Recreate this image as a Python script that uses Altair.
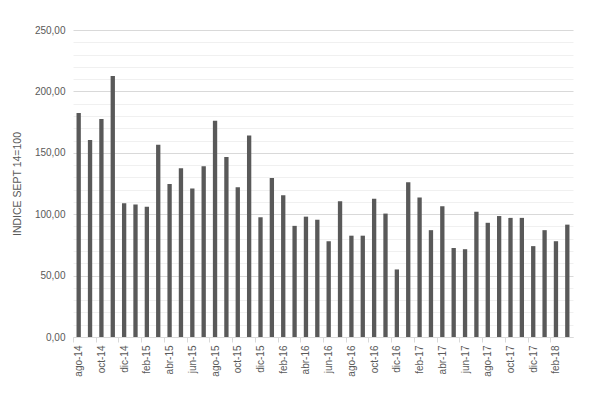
import altair as alt
import pandas as pd

months = ["ago-14","sep-14","oct-14","nov-14","dic-14","ene-15","feb-15","mar-15","abr-15","may-15",
          "jun-15","jul-15","ago-15","sep-15","oct-15","nov-15","dic-15","ene-16","feb-16","mar-16",
          "abr-16","may-16","jun-16","jul-16","ago-16","sep-16","oct-16","nov-16","dic-16","ene-17",
          "feb-17","mar-17","abr-17","may-17","jun-17","jul-17","ago-17","sep-17","oct-17","nov-17",
          "dic-17","ene-18","feb-18","mar-18"]
values = [182.5,160.5,177.5,212.5,109,108,106,156.5,124.5,137.5,
          121,139,176,146.5,122,164,97.5,129.5,115.5,90.5,
          98,95.5,78,110.5,82.5,82.5,112.5,100.5,55,126,
          113.5,87,106.5,72.5,71.5,102,93,98.5,97,97,
          74,87,78,91.5]
labeled = months[::2]

df = pd.DataFrame({"mes": months, "valor": values})

half_step = 500 / len(months) / 2

chart = alt.Chart(df).mark_bar(color="#595959").encode(
    x=alt.X("mes:N", sort=None, title=None,
            scale=alt.Scale(paddingInner=0.62, paddingOuter=0.31),
            axis=alt.Axis(values=labeled, labelAngle=-90, labelAlign="right", labelBaseline="middle",
                          tickOffset=-half_step, labelOffset=half_step,
                          tickColor="#d9d9d9", tickSize=5,
                          domainColor="#d9d9d9", labelColor="#595959", labelFontSize=10,
                          labelFont="Liberation Sans", labelPadding=3, grid=False)),
    y=alt.Y("valor:Q", title="INDICE SEPT 14=100",
            scale=alt.Scale(domain=[0, 250], nice=False),
            axis=alt.Axis(values=list(range(0, 251, 10)),
                          labelExpr="datum.value % 50 == 0 ? replace(format(datum.value, '.2f'), '.', ',') : ''",
                          gridColor={"condition": {"test": "datum.value % 50 === 0", "value": "#d9d9d9"}, "value": "#f0f0f0"},
                          ticks=False, domain=False, labelColor="#595959", labelFontSize=10,
                          labelFont="Liberation Sans", labelPadding=8,
                          titleFont="Liberation Sans", titleFontSize=10.5, titleFontWeight="normal",
                          titleColor="#595959", titleX=-51)),
).properties(
    width=500, height=307,
    autosize=alt.AutoSizeParams(type="none"),
    padding={"left": 65, "top": 22, "right": 9, "bottom": 58},
).configure_view(stroke=None)

chart.save("out.html", embed_options={"renderer": "svg", "actions": False})
